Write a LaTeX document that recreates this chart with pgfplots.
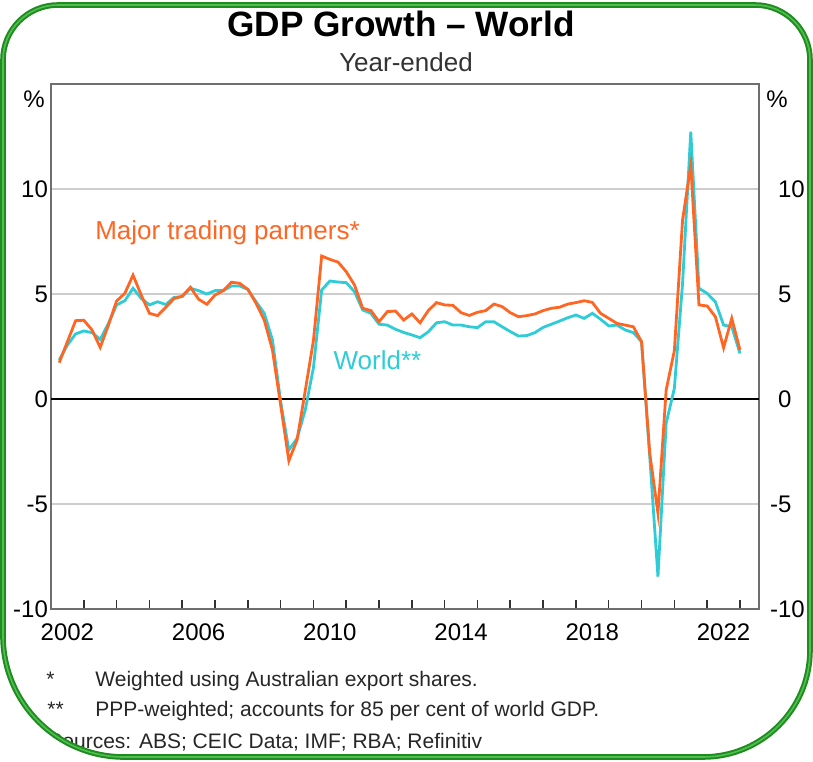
\documentclass[border=0pt]{standalone}
\usepackage{fontspec}
\setmainfont{Liberation Sans}
\usepackage{pgfplots}
\usepackage{pgfplotstable}
\pgfplotsset{compat=1.18}

\definecolor{mtp}{RGB}{255,102,36}
\definecolor{wld}{RGB}{46,204,214}
\definecolor{gridgrey}{RGB}{205,205,205}
\definecolor{axisgrey}{RGB}{110,110,110}
\definecolor{framegreen}{RGB}{30,140,30}
\definecolor{framelight}{RGB}{80,190,80}

% quarterly, year-ended growth (%); t = end of quarter
\pgfplotstableread{
t       mtp     world
2002.25 1.73 1.86
2002.50 2.73 2.57
2002.75 3.73 3.10
2003.00 3.75 3.24
2003.25 3.29 3.16
2003.50 2.46 2.84
2003.75 3.52 3.60
2004.00 4.67 4.48
2004.25 5.03 4.68
2004.50 5.90 5.27
2004.75 4.95 4.79
2005.00 4.08 4.48
2005.25 3.97 4.63
2005.50 4.37 4.50
2005.75 4.78 4.84
2006.00 4.90 4.87
2006.25 5.32 5.27
2006.50 4.75 5.16
2006.75 4.51 5.00
2007.00 4.95 5.16
2007.25 5.16 5.16
2007.50 5.56 5.38
2007.75 5.51 5.38
2008.00 5.22 5.22
2008.25 4.56 4.63
2008.50 3.76 4.08
2008.75 2.33 2.81
2009.00 -0.29 -0.13
2009.25 -2.94 -2.43
2009.50 -1.95 -1.87
2009.75 0.40 -0.52
2010.00 2.80 1.50
2010.25 6.81 5.19
2010.50 6.65 5.62
2010.75 6.52 5.57
2011.00 6.06 5.54
2011.25 5.43 5.11
2011.50 4.32 4.24
2011.75 4.21 4.08
2012.00 3.68 3.56
2012.25 4.16 3.52
2012.50 4.19 3.32
2012.75 3.76 3.17
2013.00 4.05 3.05
2013.25 3.63 2.92
2013.50 4.21 3.20
2013.75 4.59 3.63
2014.00 4.48 3.68
2014.25 4.46 3.52
2014.50 4.11 3.52
2014.75 3.98 3.44
2015.00 4.13 3.40
2015.25 4.21 3.68
2015.50 4.52 3.68
2015.75 4.40 3.44
2016.00 4.11 3.21
2016.25 3.92 3.00
2016.50 3.97 3.02
2016.75 4.05 3.16
2017.00 4.21 3.41
2017.25 4.32 3.56
2017.50 4.37 3.71
2017.75 4.52 3.87
2018.00 4.59 4.00
2018.25 4.68 3.84
2018.50 4.60 4.08
2018.75 4.08 3.80
2019.00 3.84 3.48
2019.25 3.60 3.52
2019.50 3.52 3.29
2019.75 3.44 3.16
2020.00 2.73 2.73
2020.25 -2.59 -2.75
2020.50 -5.44 -8.46
2020.75 0.43 -1.16
2021.00 2.30 0.51
2021.25 8.52 5.50
2021.50 11.14 12.73
2021.75 4.48 5.27
2022.00 4.43 5.03
2022.25 3.92 4.63
2022.50 2.44 3.52
2022.75 3.84 3.44
2023.00 2.33 2.17
}\gdp

\pgfplotsset{
    rbabox/.style={
        at={(25.5pt,76pt)}, anchor=south west,
        width=354pt, height=262.5pt, scale only axis,
        xmin=2002, xmax=2023.58,
        ymin=-10, ymax=15,
        ytick={-10,-5,0,5,10},
        ytick style={draw=none},
        tick label style={font=\fontsize{12}{14}\selectfont},
        /pgf/number format/assume math mode=true,
    },
}

\begin{document}
\begin{tikzpicture}
\useasboundingbox (0,0) rectangle (406.5pt,380.5pt);

\begin{axis}[rbabox,
    axis line style={axisgrey, line width=1pt},
    ymajorgrids,
    grid style={gridgrey, line width=0.9pt},
    xtick={2003,...,2023},
    xticklabels={},
    xtick pos=bottom,
    tick align=inside,
    xtick style={black!80, line width=0.8pt},
    major tick length=4.5pt,
    extra x ticks={2002.5,2006.5,2010.5,2014.5,2018.5,2022.5},
    extra x tick labels={2002,2006,2010,2014,2018,2022},
    extra x tick style={tick style={draw=none}, grid=none},
    xticklabel style={yshift=-4pt},
    yticklabels={-10,-5,0,5,10},
    yticklabel style={xshift=2pt},
]
\draw[black, line width=0.9pt] (axis cs:2002,0) -- (axis cs:2023.58,0);
\addplot[wld, line width=1.4pt] table[x=t, y=world] {\gdp};
\addplot[mtp, line width=1.4pt] table[x=t, y=mtp] {\gdp};
\node[mtp, font=\fontsize{13}{15}\selectfont] at (axis cs:2007.38,7.9) {Major trading partners*};
\node[wld, font=\fontsize{13}{15}\selectfont] at (axis cs:2011.95,1.86) {World**};
\end{axis}

% right-hand labels
\begin{axis}[rbabox,
    axis x line=none,
    axis y line*=right,
    axis line style={draw=none},
    yticklabels={\llap{-}10,\llap{-}5,0,5,10},
    yticklabel style={anchor=west, xshift=6pt},
]
\end{axis}

\node[anchor=base east, inner sep=0pt, font=\fontsize{12}{14}\selectfont] at (22.5pt,326.5pt) {\%};
\node[anchor=base west, inner sep=0pt, font=\fontsize{12}{14}\selectfont] at (383pt,326.5pt) {\%};

\node[anchor=base, font=\bfseries\fontsize{17.6}{20}\selectfont] at (200.5pt,362pt) {GDP Growth \textendash{} World};
\node[anchor=base, font=\fontsize{13}{15}\selectfont, black!80] at (203pt,344.5pt) {Year-ended};

\begin{scope}[font=\fontsize{10.5}{12}\selectfont, black!85, inner sep=0pt]
\node[anchor=base west] at (23pt,37.5pt) {*};
\node[anchor=base west] at (47.5pt,37.5pt) {Weighted using Australian export shares.};
\node[anchor=base west] at (23.5pt,22.5pt) {**};
\node[anchor=base west] at (47.5pt,22.5pt) {PPP-weighted; accounts for 85 per cent of world GDP.};
\node[anchor=base west] at (24pt,6.5pt) {Sources: ABS; CEIC Data; IMF; RBA; Refinitiv};
\end{scope}

% rounded frame, with the outside masked white
\def\framepath{(1.5pt,350.5pt) arc[start angle=180, end angle=90, radius=27.5pt]
    -- (377.5pt,378pt) arc[start angle=90, end angle=0, radius=27.5pt]
    -- (405pt,55.5pt) arc[start angle=0, end angle=-90, radius=53.5pt]
    -- (62pt,2pt) arc[start angle=270, end angle=180, radius=60.5pt] -- cycle}
\fill[white, even odd rule] (-10pt,-10pt) rectangle (420pt,395pt) \framepath;
\draw[framegreen, line width=2.8pt] \framepath;
\draw[framelight, line width=0.8pt] \framepath;
\end{tikzpicture}
\end{document}
